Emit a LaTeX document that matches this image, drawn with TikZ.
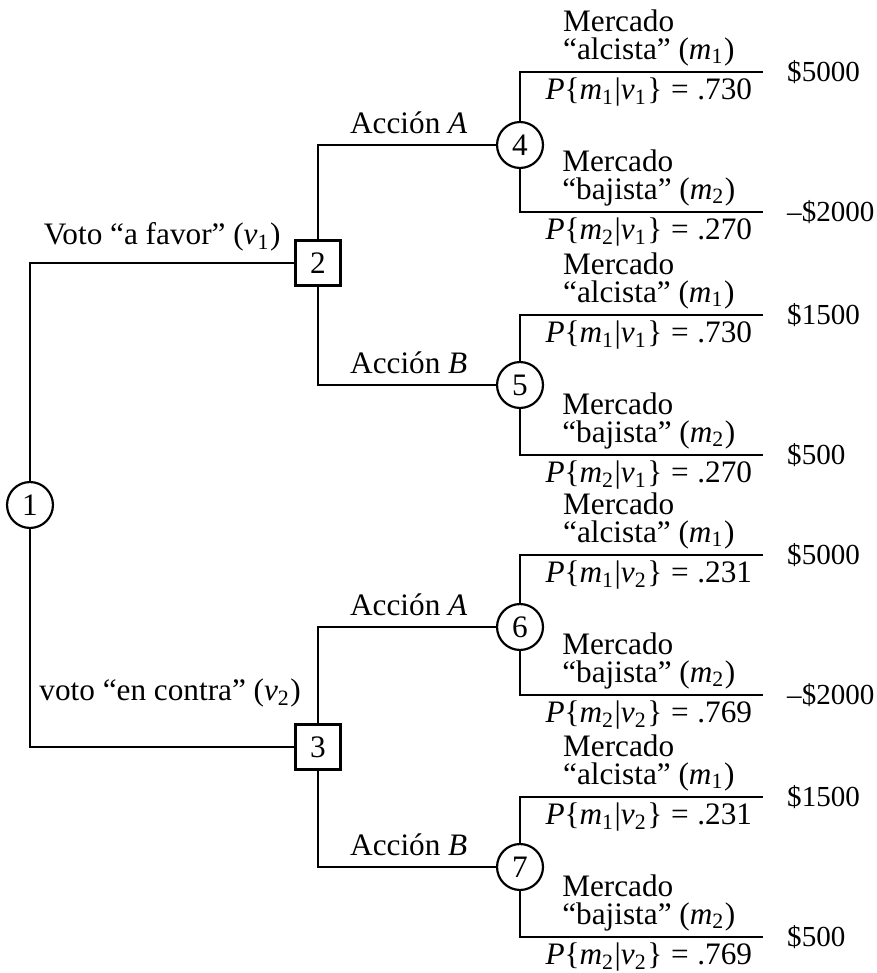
\documentclass[tikz,border=0pt]{standalone}
\usepackage{fontspec}
\setmainfont{Liberation Serif}
\usepackage{tikz}
\usetikzlibrary{positioning}
\newcommand{\isub}[2]{\textit{#1}\textsubscript{#2}}
\newcommand{\Pmv}[3]{\textit{P}\{\isub{m}{#1}|\isub{v}{#2}\}\hspace{0.28em}=\hspace{0.28em}#3}

\begin{document}
\begin{tikzpicture}[
  x=0.32pt, y=-0.32pt, line width=0.7pt,
  chance/.style={draw, circle, minimum size=14.7pt, inner sep=0pt},
  decision/.style={draw, rectangle, minimum size=14.4pt, inner sep=0pt},
  mkt/.style={pos=0.765, above=1.6pt, align=left, inner sep=0pt, font=\fontsize{10}{9}\selectfont},
  prob/.style={pos=0.765, below=1.6pt, inner sep=0pt},
  pay/.style={right=7.4pt of #1, anchor=west, inner sep=0pt, font=\fontsize{9.3}{11}\selectfont}
]
\useasboundingbox (0,0) rectangle (876,973);
\node[chance] (n1) at (30,505) {1};
\node[decision] (n2) at (318,263) {2};
\node[decision] (n3) at (318,747) {3};
\node[chance] (n4) at (520,145) {4};
\node[chance] (n5) at (520,385) {5};
\node[chance] (n6) at (520,627) {6};
\node[chance] (n7) at (520,867) {7};
\coordinate (e4a) at (763,72);
\coordinate (e4b) at (763,212);
\coordinate (e5a) at (763,315);
\coordinate (e5b) at (763,455);
\coordinate (e6a) at (763,555);
\coordinate (e6b) at (763,695);
\coordinate (e7a) at (763,797);
\coordinate (e7b) at (763,937);
\node[pay=e4a] (p4a) {\$5000};
\node[pay=e4b] (p4b) {--\$2000};
\node[pay=e5a] (p5a) {\$1500};
\node[pay=e5b] (p5b) {\$500};
\node[pay=e6a] (p6a) {\$5000};
\node[pay=e6b] (p6b) {--\$2000};
\node[pay=e7a] (p7a) {\$1500};
\node[pay=e7b] (p7b) {\$500};
\draw (n1) |- node[pos=0.75, above]{Voto “a favor” (\isub{v}{1})} (n2);
\draw (n1) |- node[pos=0.765, above, yshift=9pt]{voto “en contra” (\isub{v}{2})} (n3);
\draw (n2) |- node[pos=0.755, above]{Acción \textit{A}} (n4);
\draw (n2) |- node[pos=0.755, above]{Acción \textit{B}} (n5);
\draw (n3) |- node[pos=0.755, above]{Acción \textit{A}} (n6);
\draw (n3) |- node[pos=0.755, above]{Acción \textit{B}} (n7);
\draw (n4) |- node[mkt]{Mercado\\“alcista” (\isub{m}{1})}
              node[prob]{\Pmv{1}{1}{.730}} (e4a);
\draw (n4) |- node[mkt]{Mercado\\“bajista” (\isub{m}{2})}
              node[prob]{\Pmv{2}{1}{.270}} (e4b);
\draw (n5) |- node[mkt]{Mercado\\“alcista” (\isub{m}{1})}
              node[prob]{\Pmv{1}{1}{.730}} (e5a);
\draw (n5) |- node[mkt]{Mercado\\“bajista” (\isub{m}{2})}
              node[prob]{\Pmv{2}{1}{.270}} (e5b);
\draw (n6) |- node[mkt]{Mercado\\“alcista” (\isub{m}{1})}
              node[prob]{\Pmv{1}{2}{.231}} (e6a);
\draw (n6) |- node[mkt]{Mercado\\“bajista” (\isub{m}{2})}
              node[prob]{\Pmv{2}{2}{.769}} (e6b);
\draw (n7) |- node[mkt]{Mercado\\“alcista” (\isub{m}{1})}
              node[prob]{\Pmv{1}{2}{.231}} (e7a);
\draw (n7) |- node[mkt]{Mercado\\“bajista” (\isub{m}{2})}
              node[prob]{\Pmv{2}{2}{.769}} (e7b);
\end{tikzpicture}
\end{document}
